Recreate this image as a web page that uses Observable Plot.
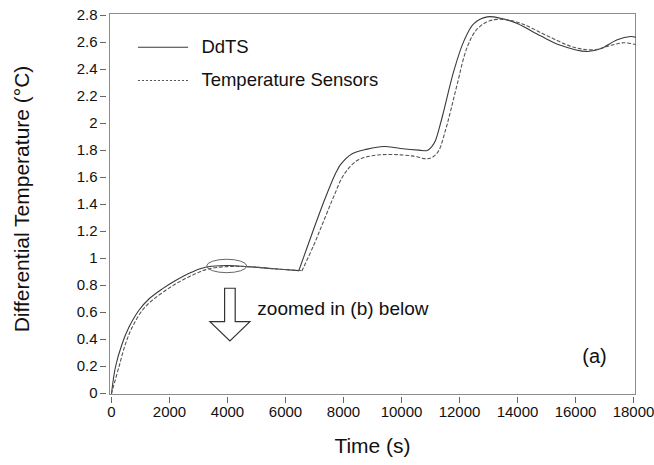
<!DOCTYPE html>
<html>
<head>
<meta charset="utf-8">
<script src="https://cdn.jsdelivr.net/npm/d3@7"></script>
<script src="https://cdn.jsdelivr.net/npm/@observablehq/plot@0.6"></script>
<style>
  html, body { margin: 0; padding: 0; background: #fff; }
</style>
</head>
<body>
<div id="chart"></div>
<script>
// ---- data ----
const seriesNames = ["DdTS", "Temperature Sensors"];

const timeDdTS = [0, 140, 370, 600, 940, 1290, 1750, 2210, 2780, 3240, 4000, 4680, 5600, 6460, 6976, 7321, 7552, 7750, 7897, 8300, 8817, 9390, 9965, 10600, 10885, 11050, 11172, 11345, 11460, 11805, 12150, 12495, 12955, 13415, 13990, 14790, 15480, 16400, 16860, 17440, 17900, 18060];
const valDdTS  = [0, 0.20, 0.37, 0.49, 0.615, 0.70, 0.775, 0.837, 0.90, 0.935, 0.948, 0.94, 0.924, 0.91, 1.22, 1.42, 1.545, 1.64, 1.695, 1.776, 1.81, 1.83, 1.815, 1.803, 1.80, 1.83, 1.874, 2.0, 2.096, 2.39, 2.61, 2.74, 2.79, 2.78, 2.74, 2.65, 2.58, 2.533, 2.553, 2.62, 2.644, 2.64];

const timeTS = [0, 253, 483, 713, 1057, 1402, 1862, 2320, 2897, 3356, 4000, 4680, 5600, 6570, 6976, 7321, 7666, 8010, 8472, 9045, 9735, 10425, 10885, 11100, 11287, 11517, 11690, 11920, 12265, 12610, 13070, 13645, 14217, 15020, 15940, 16630, 17205, 17665, 18060];
const valTS  = [0, 0.195, 0.368, 0.49, 0.615, 0.69, 0.763, 0.825, 0.887, 0.924, 0.94, 0.94, 0.924, 0.91, 1.10, 1.28, 1.46, 1.62, 1.726, 1.763, 1.77, 1.758, 1.738, 1.755, 1.80, 1.95, 2.09, 2.29, 2.565, 2.70, 2.763, 2.768, 2.733, 2.65, 2.565, 2.546, 2.578, 2.598, 2.585];

const xTicks = [0, 2000, 4000, 6000, 8000, 10000, 12000, 14000, 16000, 18000];
const yTicks = [0, 0.2, 0.4, 0.6, 0.8, 1, 1.2, 1.4, 1.6, 1.8, 2, 2.2, 2.4, 2.6, 2.8];

const xTitle = "Time (s)";
const yTitle = "Differential Temperature (°C)";
const noteText = "zoomed in (b) below";
const panelText = "(a)";

// annotation anchors (data units)
const ellipseCenter = [3990, 0.941];
const arrowAt = [4100, 0.776, 0.528, 0.385]; // x, shaft top, head base, tip
const notePos = [5030, 0.63];
const panelPos = [16655, 0.274];
const legendX = [930, 2660, 3100];   // line start, line end, text start
const legendY = [2.565, 2.318];

// ---- tables ----
const ddts = timeDdTS.map((t, i) => ({t, v: valDdTS[i]}));
const ts = timeTS.map((t, i) => ({t, v: valTS[i]}));
const legend = seriesNames.map((name, i) => ({name, y: legendY[i]}));

// split each series at its corner near 6500 s so the smooth curve keeps the sharp bend
const splitAt = (rows, t0) => [rows.filter(d => d.t <= t0), rows.filter(d => d.t >= t0)];
const [ddA, ddB] = splitAt(ddts, 6460);
const [tsA, tsB] = splitAt(ts, 6570);

const font = "'Liberation Sans', Arial, Helvetica, sans-serif";
const solid = {stroke: "#3a3a3a", strokeWidth: 1.1};
const dashed = {stroke: "#555", strokeWidth: 1.1, strokeDasharray: "3,2.6"};

const plot = Plot.plot({
  width: 654,
  height: 465,
  marginLeft: 109,
  marginRight: 19,
  marginTop: 13,
  marginBottom: 71,
  style: {fontFamily: font, fontSize: "15px", color: "#111", background: "#fff"},
  x: {domain: [-69, 18069]},
  y: {domain: [-0.0074, 2.8148]},
  marks: [
    Plot.frame({stroke: "#8c8c8c"}),
    Plot.axisX({ticks: xTicks, tickSize: 6, dy: 3, tickPadding: 3, tickFormat: d => String(d), fontSize: 15, stroke: "#666", fill: "#111", label: null}),
    Plot.axisY({ticks: yTicks, tickSize: 6, dx: -3, tickPadding: 3, tickFormat: d => String(+d.toFixed(1)), fontSize: 15, stroke: "#666", fill: "#111", label: null}),
    Plot.line(ddA, {x: "t", y: "v", curve: "catmull-rom", ...solid}),
    Plot.line(ddB, {x: "t", y: "v", curve: "catmull-rom", ...solid}),
    Plot.line(tsA, {x: "t", y: "v", curve: "catmull-rom", ...dashed}),
    Plot.line(tsB, {x: "t", y: "v", curve: "catmull-rom", ...dashed}),
    // legend
    Plot.ruleY([legend[0]], {y: "y", x1: legendX[0], x2: legendX[1], ...solid}),
    Plot.ruleY([legend[1]], {y: "y", x1: legendX[0], x2: legendX[1], ...dashed, strokeDasharray: "2,2"}),
    Plot.text(legend, {x: legendX[2], y: "y", text: "name", textAnchor: "start", fontSize: 18.5, fill: "#111"}),
    // annotations
    Plot.text([noteText], {x: notePos[0], y: notePos[1], text: d => d, textAnchor: "start", fontSize: 19, fill: "#111"}),
    Plot.text([panelText], {x: panelPos[0], y: panelPos[1], text: d => d, textAnchor: "middle", fontSize: 20, fill: "#111"}),
    // axis titles
    Plot.text([xTitle], {frameAnchor: "bottom", dy: 58, text: d => d, textAnchor: "middle", fontSize: 21, fill: "#111"}),
    Plot.text([yTitle], {frameAnchor: "left", dx: -87, dy: -5, rotate: -90, text: d => d, textAnchor: "middle", fontSize: 21, fill: "#111"})
  ]
});

// Ellipse and hollow arrow, positioned through the plot's own scales
const sx = plot.scale("x").apply, sy = plot.scale("y").apply;
const svg = d3.select(plot);
svg.append("ellipse")
  .attr("cx", sx(ellipseCenter[0])).attr("cy", sy(ellipseCenter[1]))
  .attr("rx", 20).attr("ry", 6.7)
  .attr("fill", "none").attr("stroke", "#666").attr("stroke-width", 1);

const ax = sx(arrowAt[0]), aTop = sy(arrowAt[1]), aBase = sy(arrowAt[2]), aTip = sy(arrowAt[3]);
const sw = 5.3, hw = 20;
svg.append("polygon")
  .attr("points", [
    [ax - sw, aTop], [ax + sw, aTop], [ax + sw, aBase], [ax + hw, aBase],
    [ax, aTip], [ax - hw, aBase], [ax - sw, aBase]
  ].map(p => p.join(",")).join(" "))
  .attr("fill", "#fff").attr("stroke", "#333").attr("stroke-width", 1.2);

document.getElementById("chart").appendChild(plot);
</script>
</body>
</html>
